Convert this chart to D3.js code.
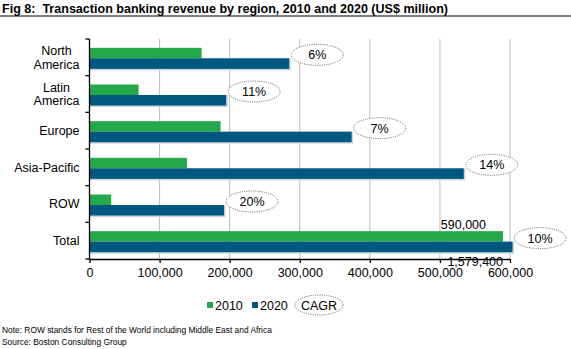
<!DOCTYPE html>
<html>
<head>
<meta charset="utf-8">
<script src="https://cdn.jsdelivr.net/npm/d3@7"></script>
<style>
  body { margin: 0; background: #fff; }
  svg { font-family: "Liberation Sans", Arial, sans-serif; }
</style>
</head>
<body>
<div id="chart"></div>
<script>
var regions = ["North America", "Latin America", "Europe", "Asia-Pacific", "ROW", "Total"];
var rev2010 = [160000, 70000, 187000, 139000, 31000, 590000];
var rev2020 = [285000, 195000, 374000, 534000, 192000, 1579400];
var cagr = ["6%", "11%", "7%", "14%", "20%", "10%"];
var xTicks = [0, 100000, 200000, 300000, 400000, 500000, 600000];

var svgWidth = 571;
var svgHeight = 349;

var margin = { top: 39, right: 61, bottom: 90, left: 89.5 };
var width = svgWidth - margin.left - margin.right;
var height = svgHeight - margin.top - margin.bottom;

var green = "#24a94a";
var blue = "#005780";
var grid = "#bdbdbd";

var svg = d3
  .select("#chart")
  .append("svg")
  .attr("width", svgWidth)
  .attr("height", svgHeight);

// title + rule
svg
  .append("text")
  .attr("x", 2)
  .attr("y", 13)
  .attr("font-size", "13.5px")
  .attr("font-weight", "bold")
  .attr("textLength", 446)
  .attr("lengthAdjust", "spacingAndGlyphs")
  .text("Fig 8:\u00a0 Transaction banking revenue by region, 2010 and 2020 (US$ million)");

svg
  .append("line")
  .attr("x1", 0)
  .attr("x2", svgWidth)
  .attr("y1", 16)
  .attr("y2", 16)
  .attr("stroke", "#000")
  .attr("stroke-width", 1.2);

var chartGroup = svg
  .append("g")
  .attr("transform", `translate(${margin.left}, ${margin.top})`);

var xScale = d3.scaleLinear().domain([0, 600000]).range([0, width]).clamp(true);
var yScale = d3.scaleBand().domain(regions).range([0, height]);
var barH = 10.5;

// gridlines
chartGroup
  .selectAll(".grid")
  .data(xTicks.slice(1))
  .enter()
  .append("line")
  .attr("x1", (d) => xScale(d))
  .attr("x2", (d) => xScale(d))
  .attr("y1", 0)
  .attr("y2", height)
  .attr("stroke", grid)
  .attr("stroke-width", 1);

var rows = regions.map((r, i) => ({ region: r, v10: rev2010[i], v20: rev2020[i], cagr: cagr[i] }));

function bandMid(d) {
  return yScale(d.region) + yScale.bandwidth() / 2 + 1;
}

// soft shadow under the blue bars
chartGroup
  .selectAll(".shadow")
  .data(rows)
  .enter()
  .append("rect")
  .attr("x", 0)
  .attr("y", (d) => bandMid(d))
  .attr("width", (d) => xScale(d.v20) + (d.v20 > 600000 ? 2.5 : 0) + 1.5)
  .attr("height", barH + 1.5)
  .attr("fill", "#c9d3dc");

chartGroup
  .selectAll(".bar10")
  .data(rows)
  .enter()
  .append("rect")
  .attr("x", 0)
  .attr("y", (d) => bandMid(d) - barH)
  .attr("width", (d) => xScale(d.v10))
  .attr("height", barH)
  .attr("fill", green);

chartGroup
  .selectAll(".bar20")
  .data(rows)
  .enter()
  .append("rect")
  .attr("x", 0)
  .attr("y", (d) => bandMid(d))
  .attr("width", (d) => xScale(d.v20) + (d.v20 > 600000 ? 2.5 : 0))
  .attr("height", barH)
  .attr("fill", blue);

// CAGR ellipses
var ell = chartGroup
  .selectAll(".cagr")
  .data(rows)
  .enter()
  .append("g")
  .attr("transform", (d) => `translate(${xScale(d.v20) + (d.v20 > 600000 ? 30 : 28)}, ${bandMid(d) - 3.5})`);

ell
  .append("ellipse")
  .attr("rx", 26)
  .attr("ry", 10.5)
  .attr("fill", "#fff")
  .attr("stroke", "#555")
  .attr("stroke-width", 0.9)
  .attr("stroke-dasharray", "1,1.2");

ell
  .append("text")
  .attr("text-anchor", "middle")
  .attr("y", 4.5)
  .attr("font-size", "12.5px")
  .text((d) => d.cagr);

// total value label (2010)
var total = rows[rows.length - 1];
chartGroup
  .append("text")
  .attr("x", xScale(total.v10) - 17)
  .attr("y", bandMid(total) - barH - 2)
  .attr("text-anchor", "end")
  .attr("font-size", "12.5px")
  .text(d3.format(",")(total.v10));

// axes
var bottomAxis = d3.axisBottom(xScale).tickValues(xTicks).tickSize(4).tickSizeOuter(0).tickFormat(d3.format(","));
var xAxis = chartGroup
  .append("g")
  .attr("transform", `translate(0, ${height})`)
  .call(bottomAxis);
xAxis.selectAll("text").attr("font-size", "12.5px").attr("font-family", "Liberation Sans, Arial, sans-serif").attr("fill", "#000").attr("dy", "0.9em");
xAxis.selectAll("line, path").attr("stroke", "#000").attr("stroke-width", 1.3);

var tickPos = regions.map((r) => yScale(r)).concat([height]);
var yAxisG = chartGroup.append("g");
yAxisG
  .append("line")
  .attr("x1", 0)
  .attr("x2", 0)
  .attr("y1", 0)
  .attr("y2", height)
  .attr("stroke", "#000")
  .attr("stroke-width", 1.3);
yAxisG
  .selectAll(".ytick")
  .data(tickPos)
  .enter()
  .append("line")
  .attr("x1", -4)
  .attr("x2", 0)
  .attr("y1", (d) => d)
  .attr("y2", (d) => d)
  .attr("stroke", "#000")
  .attr("stroke-width", 1.3);

var labels = yAxisG
  .selectAll(".ylab")
  .data(regions)
  .enter()
  .append("text")
  .attr("font-size", "12.5px")
  .attr("y", (d) => yScale(d) + yScale.bandwidth() / 2);

labels.each(function (d) {
  var el = d3.select(this);
  var words = d.indexOf(" ") > 0 ? d.split(" ") : [d];
  if (words.length > 1) {
    el.attr("text-anchor", "middle").attr("x", -33);
  } else {
    el.attr("text-anchor", "end").attr("x", -10);
  }
  words.forEach(function (w, i) {
    el.append("tspan")
      .attr("x", el.attr("x"))
      .attr("dy", i === 0 ? (words.length === 1 ? "0.35em" : "-0.2em") : "1.1em")
      .text(w);
  });
});

// 2020 total label drawn over the axis
chartGroup
  .append("text")
  .attr("x", xScale(600000) - 7)
  .attr("y", height + 7)
  .attr("text-anchor", "end")
  .attr("font-size", "12.5px")
  .text(d3.format(",")(total.v20));

// legend
var legend = svg.append("g").attr("transform", "translate(207, 302)");
legend.append("rect").attr("width", 6).attr("height", 6).attr("fill", green);
legend.append("text").attr("x", 8).attr("y", 8).attr("font-size", "12.5px").text("2010");
legend.append("rect").attr("x", 45).attr("width", 6).attr("height", 6).attr("fill", blue);
legend.append("text").attr("x", 53).attr("y", 8).attr("font-size", "12.5px").text("2020");
legend
  .append("ellipse")
  .attr("cx", 112)
  .attr("cy", 3)
  .attr("rx", 24)
  .attr("ry", 10)
  .attr("fill", "#fff")
  .attr("stroke", "#555")
  .attr("stroke-width", 0.9)
  .attr("stroke-dasharray", "1,1.2");
legend.append("text").attr("x", 112).attr("y", 8).attr("text-anchor", "middle").attr("font-size", "12.5px").text("CAGR");

// footnotes
svg.append("text").attr("x", 2).attr("y", 333).attr("font-size", "8.4px").text("Note: ROW stands for Rest of the World including Middle East and Africa");
svg.append("text").attr("x", 2).attr("y", 345).attr("font-size", "8.4px").text("Source: Boston Consulting Group");
</script>
</body>
</html>
